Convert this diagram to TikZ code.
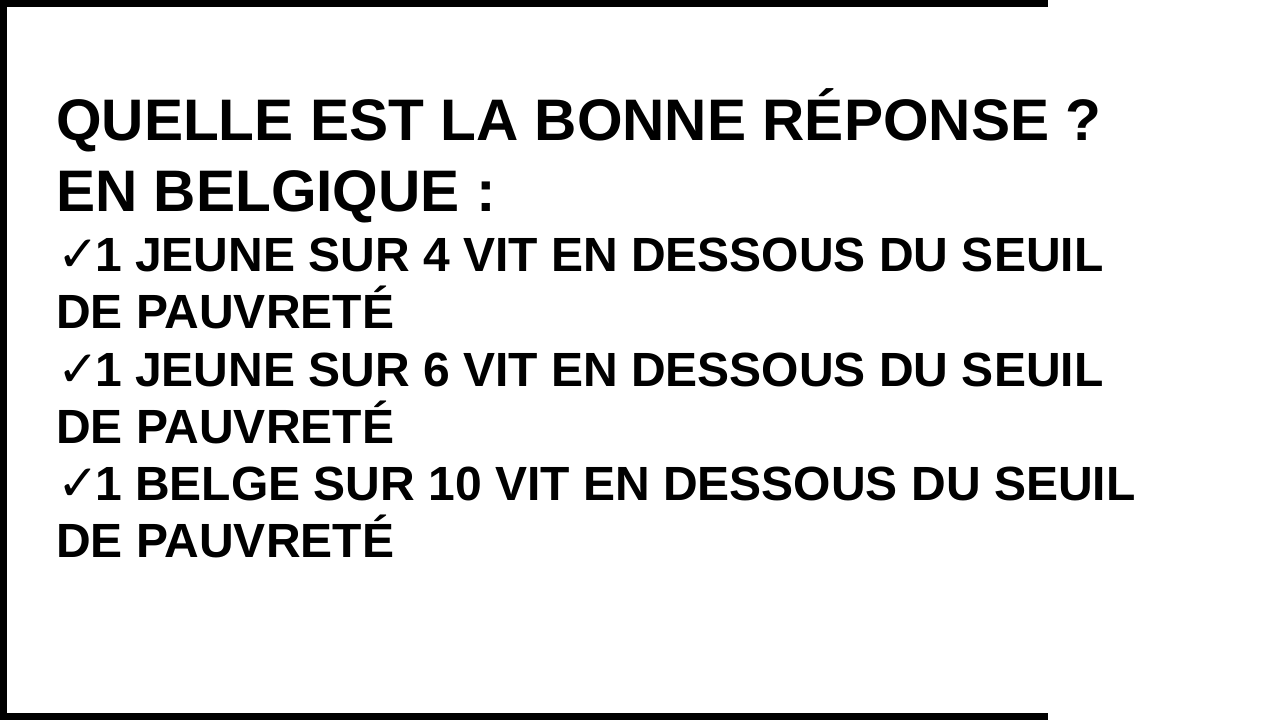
\documentclass[tikz,border=0pt]{standalone}
\usepackage{fontspec}
\setmainfont{Liberation Sans}
\newfontfamily\symfont{DejaVu Sans}
\begin{document}
\begin{tikzpicture}[x=1pt,y=-1pt,
  title/.style={anchor=base west,inner sep=0pt,font=\fontsize{58.6}{58.6}\selectfont\bfseries},
  item/.style={anchor=base west,inner sep=0pt,font=\fontsize{48}{48}\selectfont\bfseries},
  tick/.style={anchor=base west,inner sep=0pt,font=\fontsize{50}{50}\selectfont\symfont\bfseries}]
\useasboundingbox (0,0) rectangle (1280,720);
\fill[white] (0,0) rectangle (1280,720);
\fill[black] (0,0) rectangle (1048,7);
\fill[black] (0,0) rectangle (7,720);
\fill[black] (0,713) rectangle (1048,720);
\node[title] (t1) at (56,140) {QUELLE EST LA BONNE RÉPONSE ?};
\node[title] (t2) at (56,211) {EN BELGIQUE :};
\node[tick] (c1) at (57,271) {\makebox[36pt][l]{✓}};
\node[item] (a1) at (95,271) {1 JEUNE SUR 4 VIT EN DESSOUS DU SEUIL};
\node[item] (a2) at (56,328) {DE PAUVRETÉ};
\node[tick] (c2) at (57,386) {\makebox[36pt][l]{✓}};
\node[item] (b1) at (95,386) {1 JEUNE SUR 6 VIT EN DESSOUS DU SEUIL};
\node[item] (b2) at (56,443) {DE PAUVRETÉ};
\node[tick] (c3) at (57,500) {\makebox[36pt][l]{✓}};
\node[item] (d1) at (95,500) {1 BELGE SUR 10 VIT EN DESSOUS DU SEUIL};
\node[item] (d2) at (56,557) {DE PAUVRETÉ};
\end{tikzpicture}
\end{document}
